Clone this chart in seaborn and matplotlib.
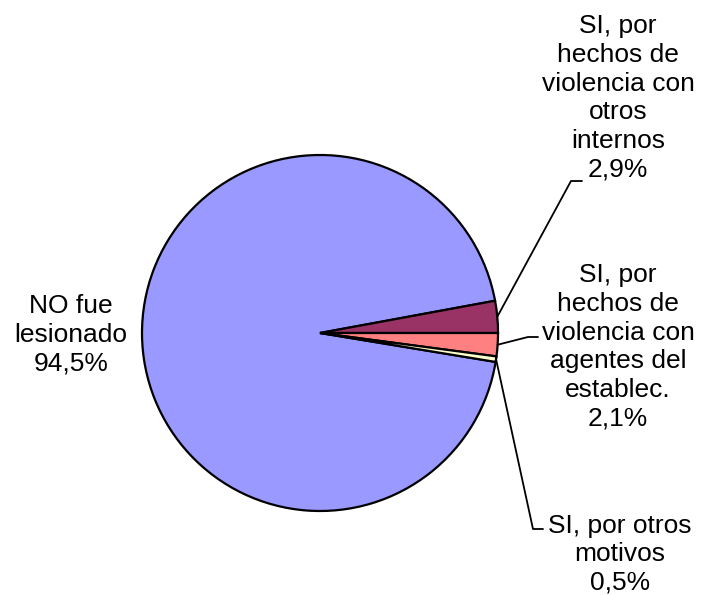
import numpy as np
import matplotlib
matplotlib.use("Agg")
import matplotlib.pyplot as plt
import seaborn as sns

sns.set_theme(style="white")
plt.rcParams['font.family'] = ['Liberation Sans', 'DejaVu Sans']

labels = ["NO fue\nlesionado", "SI, por\nhechos de\nviolencia con\notros\ninternos",
          "SI, por\nhechos de\nviolencia con\nagentes del\nestablec.", "SI, por otros\nmotivos"]
values = [94.5, 2.9, 2.1, 0.5]
pct_text = ["94,5%", "2,9%", "2,1%", "0,5%"]
colors = ["#9999FF", "#993366", "#FF8080", "#FFFFCC"]

W, H = 712, 595
fig = plt.figure(figsize=(W / 100, H / 100), dpi=100)
cx, cy, R = 320, 333, 178
ax = fig.add_axes([(cx - R) / W, (H - cy - R) / H, 2 * R / W, 2 * R / H])

start = -(values[2] + values[3]) * 3.6
wedges, _ = ax.pie(values, colors=colors, startangle=start, counterclock=False,
                   radius=1.0, wedgeprops=dict(edgecolor="black", linewidth=1.6))
ax.set_xlim(-1, 1)
ax.set_ylim(-1, 1)
ax.set_aspect("equal")
ax.axis("off")

def d(px, py):
    return (px - cx) / R, (cy - py) / R

fs = 19
# label positions (pixel centers) and leader elbows
pos = [(71, 335), (618, 98), (618, 347), (620, 554)]
lsp = [1.25, 1.25, 1.25, 1.22]
elbows = [None, [(571, 181), (582, 181)], [(528, 337), (538, 337)], [(533, 529), (543, 529)]]

for i, w in enumerate(wedges):
    txt = labels[i] + "\n" + pct_text[i]
    x, y = d(*pos[i])
    ax.text(x, y, txt, ha="center", va="center", fontsize=fs, linespacing=lsp[i],
            clip_on=False, color="black")
    if elbows[i] is not None:
        ang = np.deg2rad((w.theta1 + w.theta2) / 2)
        pts = [(np.cos(ang), np.sin(ang))] + [d(*p) for p in elbows[i]]
        xs, ys = zip(*pts)
        ax.plot(xs, ys, color="black", lw=1.3, clip_on=False)

fig.savefig("out.png", dpi=100, facecolor="white")
